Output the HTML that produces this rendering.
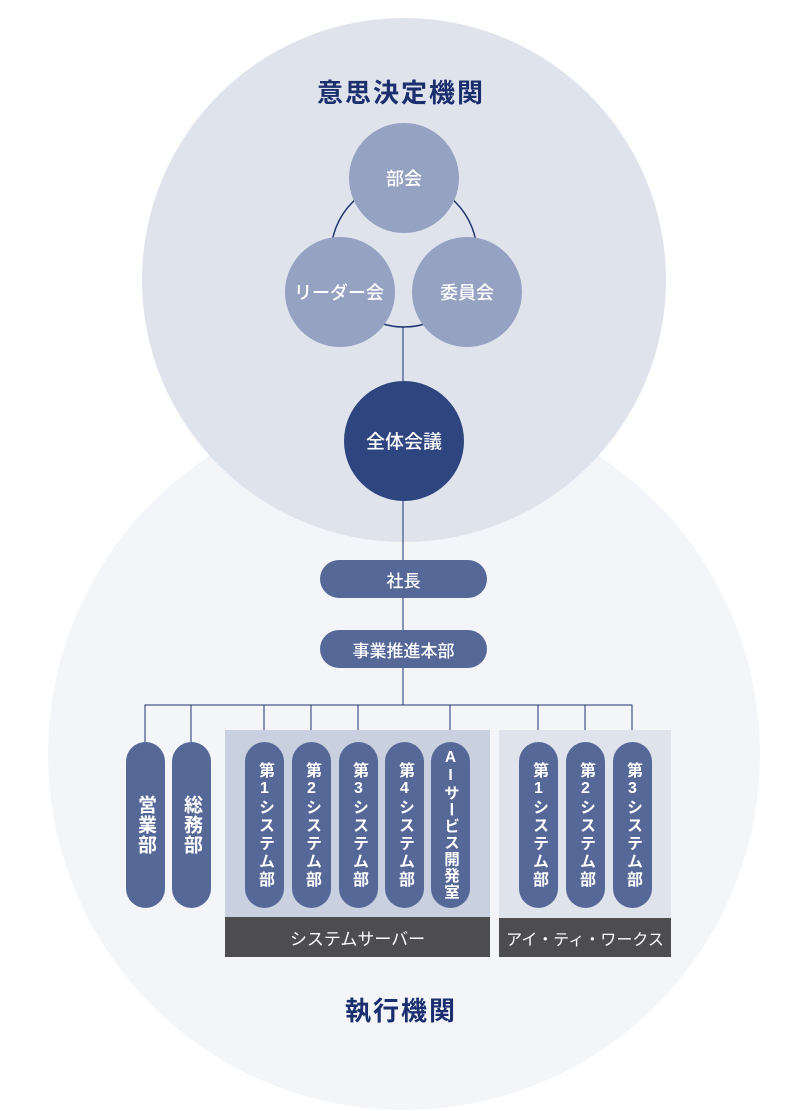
<!DOCTYPE html>
<html><head><meta charset="utf-8"><style>
body{margin:0;background:#fff;}
.w{position:relative;width:802px;height:1111px;overflow:hidden;font-family:"Liberation Sans","Noto Sans CJK JP",sans-serif;}
.a{position:absolute;}
.pill{position:absolute;background:#566898;border-radius:20px;color:#fff;font-size:14px;font-weight:bold;display:flex;align-items:center;justify-content:center;}
.v{position:absolute;top:742px;width:39px;height:166px;background:#566898;border-radius:20px;color:#fff;font-size:16px;font-weight:bold;writing-mode:vertical-rl;text-orientation:upright;display:flex;align-items:center;justify-content:center;line-height:39px;letter-spacing:2px;white-space:nowrap;}
.t{position:absolute;left:0;width:802px;text-align:center;font-weight:bold;color:#1b2f6e;font-size:26px;letter-spacing:2px;}
.lab{position:absolute;background:#4d4d4f;color:#fff;font-size:16px;display:flex;align-items:center;justify-content:center;white-space:nowrap;}
</style></head><body><div class="w">
<svg class="a" style="left:0;top:0" width="802" height="1111">
<circle cx="404" cy="754" r="356" fill="#f3f5f9"/>
<circle cx="404" cy="280" r="262" fill="#dfe3ec"/>
<circle cx="404" cy="254" r="73" fill="none" stroke="#1f3370" stroke-width="1.5"/>
<line x1="403" y1="327" x2="403" y2="705" stroke="#1f3370" stroke-width="1"/>
<polyline points="145,742 145,705 632,705 632,742" fill="none" stroke="#1f3370" stroke-width="1"/>
<g stroke="#1f3370" stroke-width="1">
<line x1="191" y1="705" x2="191" y2="742"/><line x1="264" y1="705" x2="264" y2="742"/><line x1="311" y1="705" x2="311" y2="742"/><line x1="358" y1="705" x2="358" y2="742"/><line x1="450" y1="705" x2="450" y2="742"/><line x1="538" y1="705" x2="538" y2="742"/><line x1="585" y1="705" x2="585" y2="742"/>
</g>
<rect x="225" y="730" width="265" height="188" fill="#c9d1e0"/>
<rect x="499" y="730" width="172" height="188" fill="#dfe3ec"/>
<circle cx="404" cy="178" r="55" fill="#95a2c2"/>
<circle cx="340" cy="292" r="55" fill="#95a2c2"/>
<circle cx="467" cy="292" r="55" fill="#95a2c2"/>
<circle cx="404" cy="441" r="60" fill="#2f4580"/>
<g fill="#fff" font-size="18" font-weight="500" text-anchor="middle" font-family="Liberation Sans,Noto Sans CJK JP,sans-serif">
<text x="404" y="185">部会</text><text x="339" y="299">リーダー会</text><text x="467" y="299">委員会</text>
<text x="404" y="448" font-size="19">全体会議</text></g>
</svg>
<div class="t" style="top:73px">意思決定機関</div>
<div class="t" style="top:991px">執行機関</div>
<div class="pill" style="left:320px;top:560px;width:167px;height:38px;font-size:17px;font-weight:500">社長</div>
<div class="pill" style="left:320px;top:630px;width:167px;height:38px;font-size:17px;font-weight:500">事業推進本部</div>
<div class="v" style="left:126px;font-size:19px;letter-spacing:1px">営業部</div>
<div class="v" style="left:172px;font-size:19px;letter-spacing:1px">総務部</div>
<div class="v" style="left:245px">第1システム部</div>
<div class="v" style="left:292px">第2システム部</div>
<div class="v" style="left:339px">第3システム部</div>
<div class="v" style="left:385px">第4システム部</div>
<div class="v" style="left:431px;font-size:15.5px;letter-spacing:1px">AIサービス開発室</div>
<div class="v" style="left:519px">第1システム部</div>
<div class="v" style="left:566px">第2システム部</div>
<div class="v" style="left:613px">第3システム部</div>
<div class="lab" style="left:225px;top:917px;width:265px;height:40px;font-size:17px">システムサーバー</div>
<div class="lab" style="left:499px;top:918px;width:172px;height:39px">アイ・ティ・ワークス</div>
</div></body></html>
